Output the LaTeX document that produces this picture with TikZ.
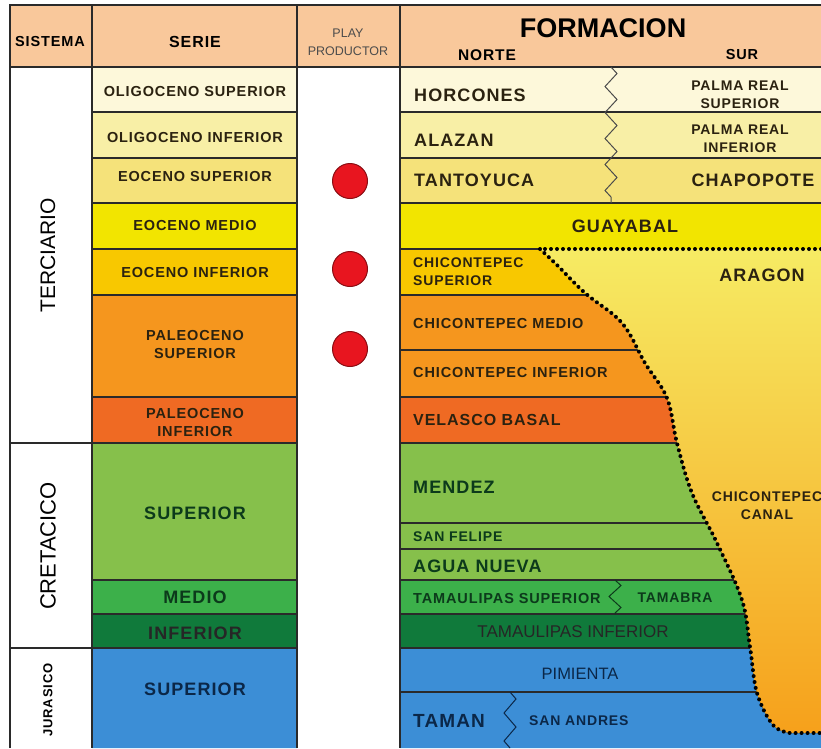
\documentclass[tikz,border=0pt]{standalone}
\usepackage{fontspec}
\setmainfont{Liberation Sans}
\usepackage{tikz}
\usetikzlibrary{decorations.pathmorphing}

\definecolor{hdr}{HTML}{F9C89B}
\definecolor{olsup}{HTML}{FDF8DA}
\definecolor{olinf}{HTML}{F8EFA6}
\definecolor{eosup}{HTML}{F5E27A}
\definecolor{eomed}{HTML}{F2E500}
\definecolor{eoinf}{HTML}{F8C800}
\definecolor{pasup}{HTML}{F5961E}
\definecolor{painf}{HTML}{EF6A23}
\definecolor{cresup}{HTML}{86C04B}
\definecolor{cremed}{HTML}{3CB04A}
\definecolor{creinf}{HTML}{107A3B}
\definecolor{jursup}{HTML}{3C8ED6}
\definecolor{txtbr}{HTML}{2B2210}
\definecolor{txtgr}{HTML}{0C3A1B}
\definecolor{txtbl}{HTML}{0B2748}
\definecolor{dotred}{HTML}{E8151F}
\definecolor{rim}{HTML}{2A2A2A}

\tikzset{
  bd/.style={font=\fontsize{#1}{18}\selectfont\bfseries\addfontfeature{LetterSpace=6}, inner sep=0pt, align=center},
  rg/.style={font=\fontsize{#1}{18}\selectfont, inner sep=0pt, align=center},
  cell/.style={draw=rim, line width=1.2pt},
  play/.style={circle, minimum size=35pt, inner sep=0pt, fill=dotred, draw=dotred!60!black, line width=1pt},
  limite/.style={line width=4pt, line cap=round, dash pattern=on 0pt off 6pt},
  zz/.style={decorate, decoration={zigzag, segment length=#1, amplitude=6pt}, line width=1pt}
}

\begin{document}
\begin{tikzpicture}[x=1pt,y=-1pt]
  \useasboundingbox (0,0) rectangle (821,748);
  \fill[hdr] (10,5) rectangle (821,67);
  \foreach \ya/\yb/\c in {67/112/olsup,112/158/olinf,158/203/eosup,203/249/eomed,249/295/eoinf,295/397/pasup,397/443/painf,443/580/cresup,580/614/cremed,614/648/creinf,648/748/jursup}
    \fill[\c] (92,\ya) rectangle (297,\yb) (400,\ya) rectangle (821,\yb);
  \foreach \y in {112,158,203,249,295,397,443,580,614,648}
    \draw[cell] (92,\y) -- (297,\y);
  \foreach \y in {112,158,203,295,350,397,443,523,549,580,614,648,692}
    \draw[cell] (400,\y) -- (821,\y);
  \draw[cell] (400,249) -- (540,249);
  \draw[cell] (10,443) -- (92,443) (10,648) -- (92,648) (10,67) -- (821,67);
  \draw[rim, line width=2pt] (10,748) -- (10,5) -- (821,5);
  \foreach \x in {92,297,400}
    \draw[cell] (\x,5) -- (\x,748);

  \draw[gray!60!black, zz=26pt] (611,67) -- (611,203);
  \draw[txtgr, zz=22pt] (615,580) -- (615,614);
  \draw[txtbl, zz=28pt] (510,692) -- (510,748);

  \fill[top color=olinf!60!eomed, middle color=eoinf!80!yellow, bottom color=pasup!90!yellow]
    (821,249) -- (540,249) -- plot[smooth, tension=0.6] coordinates {(540,249) (557,265) (585,293) (622,323) (645,363) (667,398) (677,443) (692,493) (717,543) (742,600) (750,647) (757,693) (773,725) (790,733)} -- (821,733) -- cycle;
  \draw[limite] (821,249) -- (540,249) plot[smooth, tension=0.6] coordinates {(540,249) (557,265) (585,293) (622,323) (645,363) (667,398) (677,443) (692,493) (717,543) (742,600) (750,647) (757,693) (773,725) (790,733)} -- (821,733);

  \node[play] (p1) at (350,181) {};
  \node[play] (p2) at (350,269) {};
  \node[play] (p3) at (350,349) {};

  \node[bd=14.5] (sist) at (50,42) {SISTEMA};
  \node[bd=16] (serie) at (195,42) {SERIE};
  \node[rg=12.5, text=black!70] (prod) at (348,42) {PLAY\\PRODUCTOR};
  \node[font=\fontsize{27}{27}\selectfont\bfseries, inner sep=0pt] (form) at (603,28) {FORMACION};
  \node[bd=15.5] (norte) at (487,55) {NORTE};
  \node[bd=14.5] (sur) at (742,55) {SUR};

  \node[rg=21, rotate=90] (terc) at (48,255) {TERCIARIO};
  \node[rg=22, rotate=90] (cret) at (48,546) {CRETACICO};
  \node[bd=13, rotate=90] (jur) at (48,700) {JURASICO};

  \begin{scope}[every node/.append style={text=txtbr}]
    \node[bd=14.5] (s1) at (195,92) {OLIGOCENO SUPERIOR};
    \node[bd=14.5] (s2) at (195,138) {OLIGOCENO INFERIOR};
    \node[bd=14.5] (s3) at (195,177) {EOCENO SUPERIOR};
    \node[bd=14.5] (s4) at (195,226) {EOCENO MEDIO};
    \node[bd=14.5] (s5) at (195,272) {EOCENO INFERIOR};
    \node[bd=14.5] (s6) at (195,344) {PALEOCENO\\SUPERIOR};
    \node[bd=14.5] (s7) at (195,422) {PALEOCENO\\INFERIOR};

    \node[bd=18, anchor=west] (horc) at (414,95) {HORCONES};
    \node[bd=18, anchor=west] (alaz) at (414,140) {ALAZAN};
    \node[bd=18, anchor=west] (tant) at (414,180) {TANTOYUCA};
    \node[bd=14] (palsup) at (740,95) {PALMA REAL\\SUPERIOR};
    \node[bd=14] (palinf) at (740,139) {PALMA REAL\\INFERIOR};
    \node[bd=18] (chap) at (753,180) {CHAPOPOTE};
    \node[bd=18] (guay) at (625,226) {GUAYABAL};
    \node[bd=18] (arag) at (762,275) {ARAGON};
    \node[bd=14, anchor=west, align=left] (chsup) at (413,272) {CHICONTEPEC\\SUPERIOR};
    \node[bd=14.5, anchor=west] (chmed) at (413,323) {CHICONTEPEC MEDIO};
    \node[bd=14.5, anchor=west] (chinf) at (413,372) {CHICONTEPEC INFERIOR};
    \node[bd=16, anchor=west] (vela) at (413,420) {VELASCO BASAL};
    \node[bd=14] (canal) at (767,506) {CHICONTEPEC\\CANAL};
  \end{scope}

  \begin{scope}[every node/.append style={text=txtgr}]
    \node[bd=18] (s8) at (195,513) {SUPERIOR};
    \node[bd=18] (s9) at (195,597) {MEDIO};
    \node[bd=18, text=black!85] (s10) at (195,633) {INFERIOR};
    \node[bd=18, anchor=west] (mend) at (413,487) {MENDEZ};
    \node[bd=14, anchor=west] (sfel) at (413,537) {SAN FELIPE};
    \node[bd=18, anchor=west] (agua) at (413,566) {AGUA NUEVA};
    \node[bd=14.5, anchor=west] (tsup) at (413,598) {TAMAULIPAS SUPERIOR};
    \node[bd=14] (tamb) at (675,598) {TAMABRA};
    \node[rg=17, text=black!85] (tinf) at (573,632) {TAMAULIPAS INFERIOR};
  \end{scope}

  \begin{scope}[every node/.append style={text=txtbl}]
    \node[bd=18] (s11) at (195,689) {SUPERIOR};
    \node[rg=16.5] (pimi) at (580,674) {PIMIENTA};
    \node[bd=19, anchor=west] (taman) at (413,721) {TAMAN};
    \node[bd=14, anchor=west] (sand) at (529,721) {SAN ANDRES};
  \end{scope}
\end{tikzpicture}
\end{document}
